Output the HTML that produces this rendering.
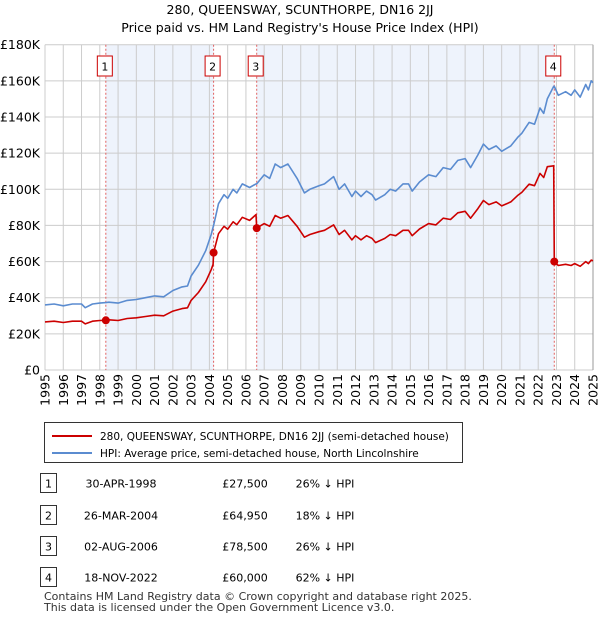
<!DOCTYPE html>
<html><head><meta charset="utf-8"><style>
body{margin:0;background:#fff;font-family:"Liberation Sans","DejaVu Sans",sans-serif;}
svg text{font-family:"DejaVu Sans","Liberation Sans",sans-serif;}
</style></head><body>
<svg id="c" width="600" height="620" viewBox="0 0 600 620" xmlns="http://www.w3.org/2000/svg">
<text x="300" y="14" text-anchor="middle" font-size="12.5">280, QUEENSWAY, SCUNTHORPE, DN16 2JJ</text>
<text x="300" y="32" text-anchor="middle" font-size="12.5">Price paid vs. HM Land Registry's House Price Index (HPI)</text>
<g id="plot"></g>
<g>
<rect x="44.5" y="422.5" width="418" height="40" fill="#fff" stroke="#333"/>
<line x1="52" y1="436" x2="92" y2="436" stroke="#cc0000" stroke-width="2"/>
<text x="100" y="440" font-size="10.5">280, QUEENSWAY, SCUNTHORPE, DN16 2JJ (semi-detached house)</text>
<line x1="52" y1="453" x2="92" y2="453" stroke="#5b8cd0" stroke-width="2"/>
<text x="100" y="457" font-size="10.5">HPI: Average price, semi-detached house, North Lincolnshire</text>
</g>
<g id="tbl" font-size="11"></g>
<text x="44" y="600" font-size="11" fill="#333">Contains HM Land Registry data © Crown copyright and database right 2025.</text>
<text x="44" y="611" font-size="11" fill="#333">This data is licensed under the Open Government Licence v3.0.</text>
</svg>
<script>
const dates=[1995.0,1995.5,1996.0,1996.5,1997.0,1997.2,1997.6,1998.0,1998.33,1998.5,1999.0,1999.5,2000.0,2000.5,2001.0,2001.5,2002.0,2002.5,2002.8,2003.0,2003.4,2003.8,2004.1,2004.2,2004.23,2004.5,2004.8,2005.0,2005.3,2005.5,2005.8,2006.2,2006.55,2006.59,2007.0,2007.3,2007.6,2007.9,2008.3,2008.8,2009.2,2009.5,2010.0,2010.3,2010.8,2011.1,2011.4,2011.8,2012.0,2012.3,2012.6,2012.9,2013.1,2013.6,2013.9,2014.2,2014.6,2014.9,2015.1,2015.5,2016.0,2016.4,2016.8,2017.2,2017.6,2018.0,2018.3,2018.7,2019.0,2019.3,2019.7,2020.0,2020.5,2020.9,2021.1,2021.5,2021.8,2022.1,2022.3,2022.5,2022.85,2022.88,2023.1,2023.5,2023.8,2024.0,2024.3,2024.6,2024.75,2024.9,2025.0];
const hpiValues=[36,36.5,35.5,36.5,36.5,34.5,36.5,37,37.3,37.5,37,38.5,39,40,41,40.5,44,46,46.5,52,58,66,75,79,80,92,97,95,100,98,103,101,103,103,108,106,114,112,114,106,98,100,102,103,107,100,103,96,99,96,99,97,94,97,100,99,103,103,99,104,108,107,112,111,116,117,112,119,125,122,124,121,124,129,131,137,136,145,142,150,157,157,152,154,152,155,151,158,155,160,159];
const priceValues=[26.6,27,26.3,27,27,25.5,27,27.4,27.5,27.8,27.4,28.5,28.9,29.6,30.3,30,32.6,34,34.4,38.5,42.9,48.8,55.5,58.5,64.95,75.4,79.5,77.9,82,80.4,84.5,82.8,86,78.5,81,79.5,85.5,84,85.5,79.5,73.5,75,76.5,77.3,80.3,75,77.3,72,74.3,72,74.3,72.8,70.5,72.8,75,74.3,77.3,77.3,74.3,78,81,80.3,84,83.3,87,87.8,84,89.3,93.8,91.5,93,90.8,93,96.8,98.3,102.8,102,108.8,106.5,112.5,113,60,57.8,58.5,57.8,58.9,57.4,60,58.9,60.8,60.4];
const saleLabels=["1","2","3","4"];
const saleDates=[1998.33,2004.23,2006.59,2022.88];
const salePrices=[27.5,64.95,78.5,60];
const saleDateText=["30-APR-1998","26-MAR-2004","02-AUG-2006","18-NOV-2022"];
const salePriceText=["£27,500","£64,950","£78,500","£60,000"];
const saleHpiText=["26% ↓ HPI","18% ↓ HPI","26% ↓ HPI","62% ↓ HPI"];
const yTicks=[0,20,40,60,80,100,120,140,160,180];
const yTickLabels=["£0","£20K","£40K","£60K","£80K","£100K","£120K","£140K","£160K","£180K"];
const xTicks=[1995,1996,1997,1998,1999,2000,2001,2002,2003,2004,2005,2006,2007,2008,2009,2010,2011,2012,2013,2014,2015,2016,2017,2018,2019,2020,2021,2022,2023,2024,2025];

const X0=45,X1=593,Y0=370,Y1=44.7;
const xs=d=>X0+(d-1995)/30*(X1-X0);
const ys=v=>Y0-v/180*(Y0-Y1);
const NS="http://www.w3.org/2000/svg";
const plot=document.getElementById('plot');
function mk(tag,attrs,parent){const e=document.createElementNS(NS,tag);for(const k in attrs)e.setAttribute(k,attrs[k]);(parent||plot).appendChild(e);return e;}

for(const [a,b] of [[0,1],[2,3]]){
  const r=mk('rect',{x:xs(saleDates[a]),y:Y1,width:xs(saleDates[b])-xs(saleDates[a]),height:Y0-Y1,fill:'#eef3fc'});
  
  
}
yTicks.forEach((v,i)=>{
  const l=mk('line',{x1:X0,x2:X1,y1:ys(v),y2:ys(v),stroke:'#cccccc','stroke-width':1});
  
  
  const t=mk('text',{x:X0-5,y:ys(v)+4.5,'text-anchor':'end','font-size':12.5});
  t.textContent=yTickLabels[i];
  
  
});
xTicks.forEach(d=>{
  const l=mk('line',{x1:xs(d),x2:xs(d),y1:Y1,y2:Y0,stroke:d===2025?'#999':'#cccccc','stroke-width':1});
  
  
  const t=mk('text',{x:0,y:0,'text-anchor':'end','font-size':12.5,transform:`translate(${xs(d)+4.5},${Y0+4}) rotate(-90)`});
  t.textContent=d;
  
  
});
saleDates.forEach((d,i)=>{
  const l=mk('line',{x1:xs(d),x2:xs(d),y1:Y1,y2:Y0,stroke:'#e06060','stroke-width':1,'stroke-dasharray':'2,2'});
  
  
  const r=mk('rect',{x:xs(d)-8.5,y:56,width:15,height:20,fill:'#fff',stroke:'#cc0000'});
  
  
  const t=mk('text',{x:xs(d)-1,y:70.5,'text-anchor':'middle','font-size':11});
  t.textContent=saleLabels[i];
  
  
});
function path(vals,color,name){
  const d=dates.map((t,i)=>(i?'L':'M')+xs(t).toFixed(1)+','+ys(vals[i]).toFixed(1)).join('');
  const p=mk('path',{d:d,fill:'none',stroke:color,'stroke-width':1.6,'stroke-linejoin':'round'});
  
  
}
path(hpiValues,'#5b8cd0','hpi-line');
path(priceValues,'#cc0000','price-paid-line');
saleDates.forEach((d,i)=>{
  const c=mk('circle',{cx:xs(d),cy:ys(salePrices[i]),r:4,fill:'#cc0000'});
  
  
});
const tbl=document.getElementById('tbl');
const rowY=[484,516,547,578];
saleLabels.forEach((s,i)=>{
  const y=rowY[i];
  const r=mk('rect',{x:40.5,y:y-10.5,width:16,height:19,fill:'#fff',stroke:'#333'},tbl);
  
  
  const cells=[[48.5,s,'middle'],[121,saleDateText[i],'middle'],[245,salePriceText[i],'middle'],[325,saleHpiText[i],'middle']];
  cells.forEach(([x,txt,a],j)=>{
    const t=mk('text',{x:x,y:y+3.5,'text-anchor':a},tbl);
    t.textContent=txt;
    
    
  });
});
</script>
</body></html>
